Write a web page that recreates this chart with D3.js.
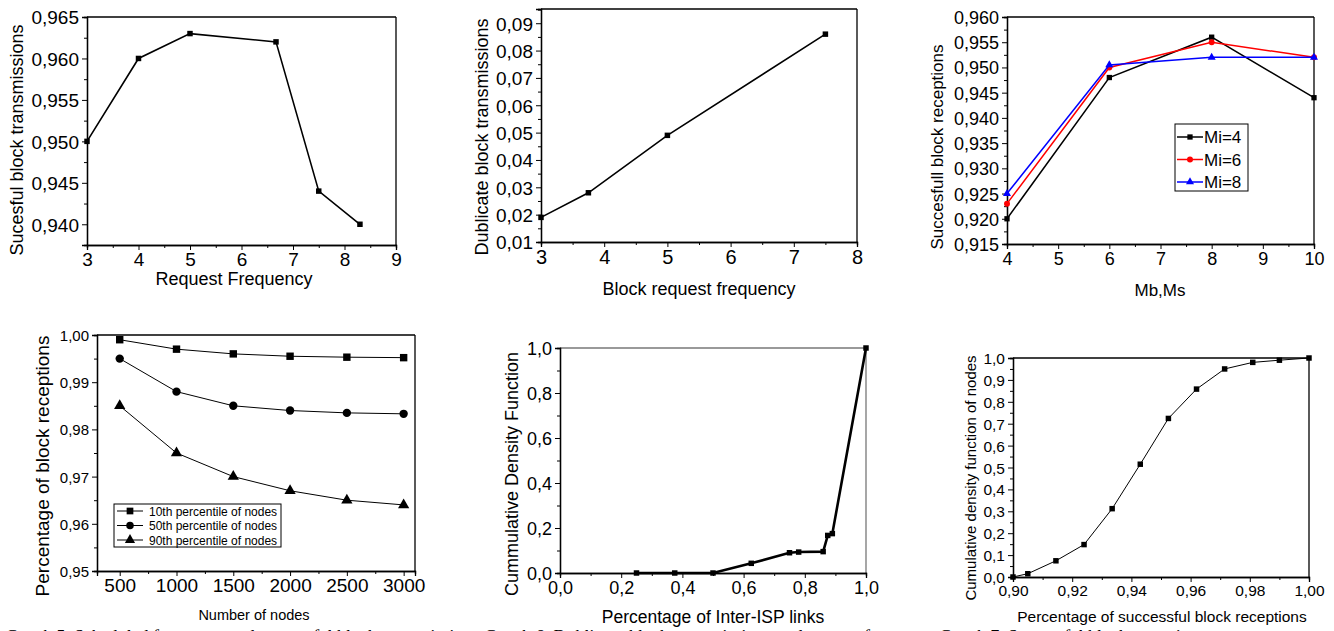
<!DOCTYPE html>
<html>
<head>
<meta charset="utf-8">
<script src="https://cdn.jsdelivr.net/npm/d3@7"></script>
<style>
  body { margin: 0; background: #fff; }
  svg { display: block; font-family: "Liberation Sans", Arial, sans-serif; }
</style>
</head>
<body>
<svg width="1334" height="631"></svg>
<script>
// graph 5 - request frequency vs successful transmissions
const freq1 = [3, 4, 5, 6.67, 7.5, 8.3]
const succ1 = [0.950, 0.960, 0.963, 0.962, 0.944, 0.940]

// graph 6 - duplicate transmissions
const freq2 = [3, 3.75, 5, 7.5]
const dup2 = [0.019, 0.028, 0.049, 0.086]

// graph 7 - Mb,Ms
const mbms = [4, 6, 8, 10]
const mi4 = [0.920, 0.948, 0.956, 0.944]
const mi6 = [0.923, 0.950, 0.955, 0.952]
const mi8 = [0.925, 0.9505, 0.952, 0.952]
const miNames = ['Mi=4', 'Mi=6', 'Mi=8']

// graph 8 - number of nodes
const nodes = [500, 1000, 1500, 2000, 2500, 3000]
const p10 = [0.999, 0.997, 0.996, 0.9955, 0.9953, 0.9952]
const p50 = [0.995, 0.988, 0.985, 0.984, 0.9835, 0.9833]
const p90 = [0.985, 0.975, 0.970, 0.967, 0.965, 0.964]
const pctNames = ['10th percentile of nodes', '50th percentile of nodes', '90th percentile of nodes']

// graph 9 - inter-ISP links CDF
const isp = [0.25, 0.375, 0.5, 0.625, 0.75, 0.78, 0.86, 0.875, 0.89, 1.0]
const ispCdf = [0, 0, 0, 0.043, 0.09, 0.093, 0.095, 0.167, 0.175, 1.0]

// graph 10 - successful receptions CDF
const recv = [0.90, 0.905, 0.9145, 0.924, 0.9335, 0.943, 0.9525, 0.962, 0.9715, 0.981, 0.990, 1.00]
const recvCdf = [0.0, 0.015, 0.074, 0.148, 0.312, 0.515, 0.724, 0.858, 0.95, 0.98, 0.99, 1.00]

const svg = d3.select('svg')
const loc = d3.formatLocale({decimal: ',', thousands: '.', grouping: [3], currency: ['', '']})

function range(a, b, s) {
  const out = []
  for (let i = 0; a + i * s <= b + s * 1e-6; i++) out.push(+(a + i * s).toFixed(6))
  return out
}

function panel(o) {
  const g = svg.append('g')
  const x = d3.scaleLinear().domain(o.xd).range([o.x0, o.x1])
  const y = d3.scaleLinear().domain(o.yd).range([o.y1, o.y0])

  // frame
  g.append('line').attr('x1', o.x0).attr('x2', o.x1).attr('y1', o.y0).attr('y2', o.y0)
    .attr('stroke', o.frame || '#000').attr('stroke-width', 1.3)
  g.append('line').attr('x1', o.x1).attr('x2', o.x1).attr('y1', o.y0).attr('y2', o.y1)
    .attr('stroke', o.frame || '#000').attr('stroke-width', 1.3)

  const xAxis = g.append('g').attr('transform', `translate(0,${o.y1})`)
    .call(d3.axisBottom(x).tickValues(o.xt).tickSize(5).tickPadding(3).tickFormat(o.xf))
  const xMinor = g.append('g').attr('transform', `translate(0,${o.y1})`)
    .call(d3.axisBottom(x).tickValues(o.xm).tickSize(3).tickFormat(''))
  const yAxis = g.append('g').attr('transform', `translate(${o.x0},0)`)
    .call(d3.axisLeft(y).tickValues(o.yt).tickSize(5).tickPadding(3).tickFormat(o.yf))
  const yMinor = g.append('g').attr('transform', `translate(${o.x0},0)`)
    .call(d3.axisLeft(y).tickValues(o.ym).tickSize(3).tickFormat(''))

  ;[xAxis, xMinor, yAxis, yMinor].forEach(a => {
    a.select('.domain').attr('stroke', '#000').attr('stroke-width', 1.3)
    a.selectAll('line').attr('stroke', '#000')
    a.selectAll('text').attr('font-family', '"Liberation Sans", Arial, sans-serif').attr('fill', '#000')
  })
  xAxis.selectAll('text').attr('font-size', o.xfs)
  yAxis.selectAll('text').attr('font-size', o.yfs).attr('dy', '0.36em')

  g.append('text').attr('x', o.xtx).attr('y', o.xty).attr('text-anchor', 'middle')
    .attr('font-size', o.xtfs).text(o.xtitle)
  g.append('text').attr('transform', `translate(${o.ytx},${o.yty}) rotate(-90)`)
    .attr('text-anchor', 'middle').attr('font-size', o.ytfs).text(o.ytitle)

  return {g, x, y}
}

function series(p, xs, ys, color, width, shape, size) {
  const pts = xs.map((d, i) => [d, ys[i]])
  p.g.append('path')
    .attr('d', d3.line().x(d => p.x(d[0])).y(d => p.y(d[1]))(pts))
    .attr('fill', 'none').attr('stroke', color).attr('stroke-width', width)
  p.g.selectAll(null).data(pts).join('path')
    .attr('transform', d => `translate(${p.x(d[0])},${p.y(d[1])})`)
    .attr('d', d3.symbol().type(shape).size(size))
    .attr('fill', color)
}

// graph 5
const pA = panel({
  x0: 87, x1: 396, y0: 17, y1: 245, xd: [3, 9], yd: [0.9375, 0.965],
  xt: range(3, 9, 1), xm: range(3.5, 8.5, 1), yt: range(0.940, 0.965, 0.005), ym: range(0.9375, 0.9625, 0.005),
  xf: d3.format('d'), yf: loc.format('.3f'), xfs: 19, yfs: 19,
  xtitle: 'Request Frequency', xtx: 234, xty: 285, xtfs: 18,
  ytitle: 'Sucesful block transmissions', ytx: 23, yty: 140, ytfs: 18
})
series(pA, freq1, succ1, '#000', 1.6, d3.symbolSquare, 30)

// graph 6
const pB = panel({
  x0: 541, x1: 857, y0: 9, y1: 242, xd: [3, 8], yd: [0.01, 0.0952],
  xt: range(3, 8, 1), xm: range(3.5, 7.5, 1), yt: range(0.01, 0.09, 0.01), ym: range(0.015, 0.095, 0.01),
  xf: d3.format('d'), yf: loc.format('.2f'), xfs: 20, yfs: 19,
  xtitle: 'Block request frequency', xtx: 699, xty: 295, xtfs: 18,
  ytitle: 'Dublicate block transmissions', ytx: 488, yty: 137, ytfs: 18
})
series(pB, freq2, dup2, '#000', 1.6, d3.symbolSquare, 30)

// graph 7
const pC = panel({
  x0: 1007, x1: 1314, y0: 17, y1: 244, xd: [4, 10], yd: [0.915, 0.960],
  xt: range(4, 10, 1), xm: range(4.5, 9.5, 1), yt: range(0.915, 0.960, 0.005), ym: range(0.9175, 0.9575, 0.005),
  xf: d3.format('d'), yf: loc.format('.3f'), xfs: 18, yfs: 18,
  xtitle: 'Mb,Ms', xtx: 1160, xty: 296, xtfs: 17,
  ytitle: 'Succesfull block receptions', ytx: 943, yty: 147, ytfs: 17
})
const miColors = ['#000', '#ff0000', '#0000ff']
const miShapes = [d3.symbolSquare, d3.symbolCircle, d3.symbolTriangle]
;[mi4, mi6, mi8].forEach((s, i) => series(pC, mbms, s, miColors[i], 1.5, miShapes[i], 28))
const legC = pC.g.append('g')
legC.append('rect').attr('x', 1175).attr('y', 124).attr('width', 73).attr('height', 67)
  .attr('fill', '#fff').attr('stroke', '#000').attr('stroke-width', 1)
miNames.forEach((n, i) => {
  const ly = 137 + i * 22.5
  legC.append('line').attr('x1', 1177).attr('x2', 1203).attr('y1', ly).attr('y2', ly)
    .attr('stroke', miColors[i]).attr('stroke-width', 1.5)
  legC.append('path').attr('transform', `translate(1190,${ly})`)
    .attr('d', d3.symbol().type(miShapes[i]).size(28)).attr('fill', miColors[i])
  legC.append('text').attr('x', 1204).attr('y', ly + 6).attr('font-size', 17).text(n)
})

// graph 8
const pD = panel({
  x0: 97, x1: 415, y0: 335, y1: 571, xd: [300, 3100], yd: [0.95, 1.0],
  xt: nodes, xm: range(750, 2750, 500), yt: range(0.95, 1.0, 0.01), ym: range(0.955, 0.995, 0.01),
  xf: d3.format('d'), yf: loc.format('.2f'), xfs: 19, yfs: 15,
  xtitle: 'Number of nodes', xtx: 254, xty: 620, xtfs: 14.5,
  ytitle: 'Percentage of block receptions', ytx: 49, yty: 466, ytfs: 19
})
const pctShapes = [d3.symbolSquare, d3.symbolCircle, d3.symbolTriangle]
;[p10, p50, p90].forEach((s, i) => series(pD, nodes, s, '#000', 1, pctShapes[i], 55))
const legD = pD.g.append('g')
legD.append('rect').attr('x', 114).attr('y', 504).attr('width', 167).attr('height', 43)
  .attr('fill', '#fff').attr('stroke', '#000').attr('stroke-width', 1)
pctNames.forEach((n, i) => {
  const ly = 511 + i * 14.5
  legD.append('line').attr('x1', 117).attr('x2', 143).attr('y1', ly).attr('y2', ly)
    .attr('stroke', '#000').attr('stroke-width', 1)
  legD.append('path').attr('transform', `translate(130,${ly})`)
    .attr('d', d3.symbol().type(pctShapes[i]).size(45)).attr('fill', '#000')
  legD.append('text').attr('x', 149).attr('y', ly + 4.5).attr('font-size', 12).text(n)
})

// graph 9
const pE = panel({
  x0: 560, x1: 866, y0: 348, y1: 573, xd: [0, 1], yd: [0, 1],
  xt: range(0, 1, 0.2), xm: range(0.1, 0.9, 0.2), yt: range(0, 1, 0.2), ym: range(0.1, 0.9, 0.2),
  xf: loc.format('.1f'), yf: loc.format('.1f'), xfs: 18, yfs: 18,
  xtitle: 'Percentage of Inter-ISP links', xtx: 713, xty: 623, xtfs: 17.5,
  ytitle: 'Cummulative Density Function', ytx: 518, yty: 474, ytfs: 18,
  frame: '#777'
})
series(pE, isp, ispCdf, '#000', 2.6, d3.symbolSquare, 30)

// graph 10
const pF = panel({
  x0: 1013, x1: 1309, y0: 358, y1: 577, xd: [0.9, 1.0], yd: [0, 1],
  xt: range(0.9, 1.0, 0.02), xm: range(0.91, 0.99, 0.02), yt: range(0, 1, 0.1), ym: range(0.05, 0.95, 0.1),
  xf: loc.format('.2f'), yf: loc.format('.1f'), xfs: 15.5, yfs: 15.5,
  xtitle: 'Percentage of successful block receptions', xtx: 1162, xty: 622, xtfs: 15.5,
  ytitle: 'Cumulative density function of nodes', ytx: 976, yty: 478, ytfs: 15
})
series(pF, recv, recvCdf, '#000', 1, d3.symbolSquare, 30)

// caption, cut off by the bottom edge
svg.append('text').attr('x', 4).attr('y', 643)
  .attr('font-family', '"Liberation Serif", serif').attr('font-style', 'italic').attr('font-size', 18)
  .text('Graph 5. Scheduled frequency and successful block transmissions    Graph 6. Dublicate block transmissions and request frequency    Graph 7. Successful block receptions')
</script>
</body>
</html>
